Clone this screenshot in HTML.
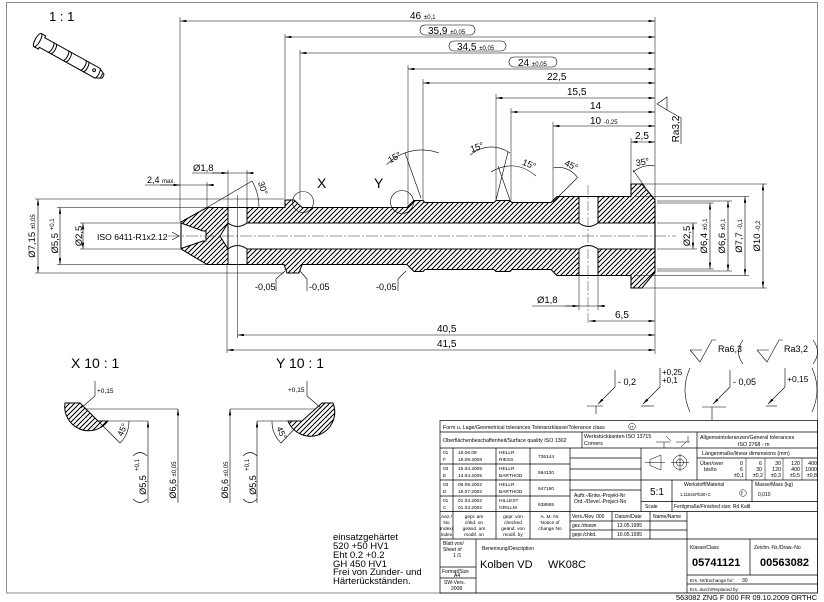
<!DOCTYPE html>
<html><head><meta charset="utf-8"><style>
html,body{margin:0;padding:0;background:#fff;}
svg{display:block;}
text{font-family:"Liberation Sans",sans-serif;fill:#000;}
.t{stroke:#000;stroke-width:.6;fill:none;}
.e{stroke:#000;stroke-width:.5;fill:none;}
.k{stroke:#000;stroke-width:.7;fill:none;}
</style></head><body>
<svg width="824" height="602" viewBox="0 0 824 602" xmlns="http://www.w3.org/2000/svg">
<defs>
<marker id="a" viewBox="0 0 8 3" refX="8" refY="1.5" markerWidth="6.5" markerHeight="2.4" markerUnits="userSpaceOnUse" orient="auto-start-reverse"><path d="M0,0 L8,1.5 L0,3 Z" fill="#000"/></marker>
</defs>
<rect x="0" y="0" width="824" height="602" fill="#fff"/>

<!-- PART hatch (explicit lines + white-out outside the outline) -->
<path stroke="#000" stroke-width="1" fill="none" shape-rendering="crispEdges" d="M100,296l120,-120M105,296l120,-120M110,296l120,-120M115,296l120,-120M120,296l120,-120M125,296l120,-120M130,296l120,-120M135,296l120,-120M140,296l120,-120M145,296l120,-120M150,296l120,-120M155,296l120,-120M160,296l120,-120M165,296l120,-120M170,296l120,-120M175,296l120,-120M180,296l120,-120M185,296l120,-120M190,296l120,-120M195,296l120,-120M200,296l120,-120M205,296l120,-120M210,296l120,-120M215,296l120,-120M220,296l120,-120M225,296l120,-120M230,296l120,-120M235,296l120,-120M240,296l120,-120M245,296l120,-120M250,296l120,-120M255,296l120,-120M260,296l120,-120M265,296l120,-120M270,296l120,-120M275,296l120,-120M280,296l120,-120M285,296l120,-120M290,296l120,-120M295,296l120,-120M300,296l120,-120M305,296l120,-120M310,296l120,-120M315,296l120,-120M320,296l120,-120M325,296l120,-120M330,296l120,-120M335,296l120,-120M340,296l120,-120M345,296l120,-120M350,296l120,-120M355,296l120,-120M360,296l120,-120M365,296l120,-120M370,296l120,-120M375,296l120,-120M380,296l120,-120M385,296l120,-120M390,296l120,-120M395,296l120,-120M400,296l120,-120M405,296l120,-120M410,296l120,-120M415,296l120,-120M420,296l120,-120M425,296l120,-120M430,296l120,-120M435,296l120,-120M440,296l120,-120M445,296l120,-120M450,296l120,-120M455,296l120,-120M460,296l120,-120M465,296l120,-120M470,296l120,-120M475,296l120,-120M480,296l120,-120M485,296l120,-120M490,296l120,-120M495,296l120,-120M500,296l120,-120M505,296l120,-120M510,296l120,-120M515,296l120,-120M520,296l120,-120M525,296l120,-120M530,296l120,-120M535,296l120,-120M540,296l120,-120M545,296l120,-120M550,296l120,-120M555,296l120,-120M560,296l120,-120M565,296l120,-120M570,296l120,-120M575,296l120,-120M580,296l120,-120M585,296l120,-120M590,296l120,-120M595,296l120,-120M600,296l120,-120M605,296l120,-120M610,296l120,-120M615,296l120,-120M620,296l120,-120M625,296l120,-120M630,296l120,-120M635,296l120,-120"/>
<path fill="#fff" fill-rule="evenodd" stroke="none" d="M60,175 H780 V297 H60 Z M181,222 L181,249 L207,264.5 L284,264.5 L287,273 L299,273 L302,264.5 L407,264.5 L414,271.5 L423,271.5 L425,269.5 L494,269.5 L496,271.5 L510,271.5 L512,269.5 L551,269.5 L557,275.5 L631,275.5 L631,288 L642,288 L655,272 L655,200 L642,184 L631,184 L631,196.5 L557,196.5 L551,202.5 L512,202.5 L510,200.5 L496,200.5 L494,202.5 L425,202.5 L423,200.5 L414,200.5 L407,207.5 L302,207.5 L294,200 L285,200 L285,207.5 L207,207.5 Z"/>
<g fill="#fff" stroke="none">
<path d="M220,236 L228,223 L655,223 L655,249 L228,249 Z"/>
<rect x="228" y="207.5" width="19" height="57"/>
<rect x="579" y="196.5" width="19" height="79"/>
<path d="M181,223 L203,231 L206,231 L206,241 L203,241 L181,248.5 Z"/>
</g>

<!-- Detail hatches -->
<path stroke="#000" stroke-width="1" fill="none" shape-rendering="crispEdges" d="M25,438l40,-40M30,438l40,-40M35,438l40,-40M40,438l40,-40M45,438l40,-40M50,438l40,-40M55,438l40,-40M60,438l40,-40M65,438l40,-40M70,438l40,-40M75,438l40,-40M80,438l40,-40M85,438l40,-40M90,438l40,-40M95,438l40,-40M100,438l40,-40"/>
<path fill="#fff" fill-rule="evenodd" stroke="none" d="M20,396 H146 V440 H20 Z M65,403 A24,24 0 0 0 108,421 L98,421 L80,403 Z"/>
<path stroke="#000" stroke-width="1" fill="none" shape-rendering="crispEdges" d="M265,438l40,-40M270,438l40,-40M275,438l40,-40M280,438l40,-40M285,438l40,-40M290,438l40,-40M295,438l40,-40M300,438l40,-40M305,438l40,-40M310,438l40,-40M315,438l40,-40M320,438l40,-40M325,438l40,-40"/>
<path fill="#fff" fill-rule="evenodd" stroke="none" d="M260,396 H370 V440 H260 Z M333,403 A24,24 0 0 1 288,421 L302,421 L322,403 Z"/>

<rect x="6.5" y="2.5" width="811" height="590.5" fill="none" stroke="#8a8a8a" stroke-width="1"/>

<!-- 1:1 and pin -->
<text x="49" y="21" font-size="13">1 : 1</text>
<g transform="translate(70,58) rotate(29)" fill="#fff" stroke="#000" stroke-width="1">
<path d="M-37,-7.5 L-32,-7.5 L-32,-5.5 L31,-5.5 L37,-2.5 L37,2.5 L31,5.5 L-32,5.5 L-32,7.5 L-37,7.5 Z"/>
<ellipse cx="-37" cy="0" rx="2.5" ry="7.5"/>
<path d="M-22,-5.5 A2,5.5 0 0 1 -22,5.5 M-19,-5.5 A2,5.5 0 0 1 -19,5.5 M-5,-5.5 A2,5.5 0 0 1 -5,5.5 M-2,-5.5 A2,5.5 0 0 1 -2,5.5 M15,-5.5 A2,5.5 0 0 1 15,5.5 M18,-5.5 A2,5.5 0 0 1 18,5.5 M31,-5.5 A2,5.5 0 0 1 31,5.5" fill="none"/>
<ellipse cx="37" cy="0" rx="1" ry="2.5"/>
<circle cx="27" cy="-1" r="1.4"/>
</g>

<!-- PART outline -->
<path d="M181,222 L207,207.5 L285,207.5 L285,200 L294,200 L302,207.5 L407,207.5 L414,200.5 L423,200.5 L425,202.5 L494,202.5 L496,200.5 L510,200.5 L512,202.5 L551,202.5 L557,196.5 L631,196.5 L631,184 L642,184 L655,200 L655,272 L642,288 L631,288 L631,275.5 L557,275.5 L551,269.5 L512,269.5 L510,271.5 L496,271.5 L494,269.5 L425,269.5 L423,271.5 L414,271.5 L407,264.5 L302,264.5 L299,273 L287,273 L284,264.5 L207,264.5 L181,249 Z" fill="none" stroke="#000" stroke-width="1.1"/>
<g stroke="#000" stroke-width="1" fill="none">
<path d="M247,223 H579 M598,223 H655 M247,249 H579 M598,249 H655"/>
<path d="M228,223 L220,236 L228,249"/>
<path d="M228,207.5 V264.5 M247,207.5 V223 M247,249 V264.5"/>
<path d="M228,223 Q237.5,230 247,223 M228,249 Q237.5,242 247,249"/>
<path d="M579,196.5 V223 M598,196.5 V223 M579,249 V275.5 M598,249 V275.5"/>
<path d="M579,223 Q588.5,230 598,223 M579,249 Q588.5,242 598,249"/>
<path d="M181,223 L203,231 L206,231 L206,241 L203,241 L181,248.5"/>
</g>
<line x1="168" y1="236" x2="676" y2="236" stroke="#333" stroke-width=".5" stroke-dasharray="12 2 2 2"/>
<line x1="588" y1="185" x2="588" y2="323" stroke="#333" stroke-width=".5" stroke-dasharray="10 2 2 2"/>

<!-- top extension lines -->
<g class="e">
<path d="M180,17 V222 M285,34 V199 M300,50 V200 M408,65 V207 M423,79 V200 M496,94 V200 M511,108 V200 M553,122 V202 M631,138 V184 M655,17 V354"/>
</g>
<!-- top dims -->
<g class="t">
<line x1="180" y1="21" x2="655" y2="21" marker-start="url(#a)" marker-end="url(#a)"/>
<line x1="285" y1="37" x2="655" y2="37" marker-start="url(#a)" marker-end="url(#a)"/>
<line x1="300" y1="53" x2="655" y2="53" marker-start="url(#a)" marker-end="url(#a)"/>
<line x1="408" y1="69" x2="655" y2="69" marker-start="url(#a)" marker-end="url(#a)"/>
<line x1="423" y1="83" x2="655" y2="83" marker-start="url(#a)" marker-end="url(#a)"/>
<line x1="496" y1="98" x2="655" y2="98" marker-start="url(#a)" marker-end="url(#a)"/>
<line x1="511" y1="112" x2="655" y2="112" marker-start="url(#a)" marker-end="url(#a)"/>
<line x1="553" y1="126" x2="655" y2="126" marker-start="url(#a)" marker-end="url(#a)"/>
<line x1="631" y1="142" x2="655" y2="142" marker-start="url(#a)" marker-end="url(#a)"/>
<rect x="420" y="25" width="55" height="10" rx="5"/>
<rect x="449" y="41" width="57" height="10" rx="5"/>
<rect x="509" y="57" width="48" height="10" rx="5"/>
</g>
<text x="410" y="19" font-size="10">46 <tspan font-size="6">±0,1</tspan></text>
<text x="428" y="34" font-size="10">35,9 <tspan font-size="6">±0,05</tspan></text>
<text x="457" y="50" font-size="10">34,5 <tspan font-size="6">±0,05</tspan></text>
<text x="518" y="66" font-size="10">24 <tspan font-size="6">±0,05</tspan></text>
<text x="547" y="80" font-size="10">22,5</text>
<text x="567" y="95" font-size="10">15,5</text>
<text x="590" y="109" font-size="10">14</text>
<text x="590" y="124" font-size="10">10 <tspan font-size="6">-0,25</tspan></text>
<text x="635" y="139" font-size="10">2,5</text>

<!-- Ra3,2 symbol -->
<path class="t" d="M667,97 L657,104 L667,110 Z M667,110 L681,118 V144"/>
<text transform="translate(679,129) rotate(-90)" text-anchor="middle" font-size="10">Ra3,2</text>

<!-- angles -->
<g class="t">
<path d="M421,198 L405,153"/>
<path d="M386.6,164.6 A50,50 0 0 1 439,153"/>
<path d="M496,200 L508,152 M510,200 L498,166"/>
<path d="M470,155 Q490,140 510,153"/>
<path d="M491,172 Q515,158 536,176"/>
<path d="M553,202 L577,178"/>
<path d="M553,168 Q568,165 578,178"/>
<path d="M645,187 L633,170"/>
<path d="M633,172 Q643,164 655,166"/>
<path d="M207,207.5 L252,181"/>
<path d="M252,181 A52,52 0 0 1 259,207.5"/>
</g>
<text transform="translate(396,160) rotate(-30)" text-anchor="middle" font-size="9">15°</text>
<text transform="translate(478,150) rotate(-20)" text-anchor="middle" font-size="9">15°</text>
<text transform="translate(528,167) rotate(22)" text-anchor="middle" font-size="9">15°</text>
<text transform="translate(570,168) rotate(25)" text-anchor="middle" font-size="9">45°</text>
<text transform="translate(643,165) rotate(-10)" text-anchor="middle" font-size="9">35°</text>
<text transform="translate(260,189) rotate(72)" text-anchor="middle" font-size="9">30°</text>

<!-- X Y circles -->
<text x="317" y="188" font-size="14">X</text>
<text x="374" y="188" font-size="14">Y</text>
<circle cx="303" cy="202" r="10.5" class="t"/>
<circle cx="402" cy="202" r="11.5" class="t"/>

<!-- left side ext/dims -->
<g class="e">
<path d="M35,199 H284 M35,273 H284 M57,207.5 H207 M57,264.5 H207 M80,223 H180 M80,249 H180"/>
<path d="M228,170 V207 M247,170 V207 M207,182 V207"/>
<path d="M227,264 V353 M237.5,195 V338"/>
<path d="M579,276 V310 M598,276 V310"/>
</g>
<g class="t">
<line x1="38" y1="199" x2="38" y2="273" marker-start="url(#a)" marker-end="url(#a)"/>
<line x1="60" y1="207.5" x2="60" y2="264.5" marker-start="url(#a)" marker-end="url(#a)"/>
<line x1="83" y1="223" x2="83" y2="249" marker-start="url(#a)" marker-end="url(#a)"/>
<line x1="145" y1="185" x2="212" y2="185"/>
<line x1="160" y1="185" x2="180" y2="185" marker-end="url(#a)"/>
<line x1="214" y1="185" x2="207" y2="185" marker-end="url(#a)"/>
<line x1="192" y1="173" x2="253" y2="173"/>
<line x1="212" y1="173" x2="228" y2="173" marker-end="url(#a)"/>
<line x1="253" y1="173" x2="247" y2="173" marker-end="url(#a)"/>
<path d="M172,232 L179,236 L172,240"/>
</g>
<text transform="translate(35,236) rotate(-90)" text-anchor="middle" font-size="9.5">Ø7,15 <tspan font-size="6">±0,05</tspan></text>
<text transform="translate(58,236) rotate(-90)" text-anchor="middle" font-size="9.5">Ø5,5 <tspan font-size="6" dy="-4">+0,1</tspan></text>
<text transform="translate(82,236) rotate(-90)" text-anchor="middle" font-size="9.5">Ø2,5</text>
<text x="97" y="240" font-size="8.6">ISO 6411-R1x2.12</text>
<text x="147" y="183" font-size="9">2,4 <tspan font-size="6">max.</tspan></text>
<text x="193" y="171" font-size="9.5">Ø1,8</text>

<!-- right diam dims -->
<g class="e">
<path d="M657,223 H697 M657,249 H697 M657,203 H714 M657,269 H714 M657,201 H732 M657,271 H732 M634,196.5 H749 M634,275.5 H749 M642,184 H767 M642,288 H767"/>
</g>
<g class="t">
<line x1="693" y1="223" x2="693" y2="249" marker-start="url(#a)" marker-end="url(#a)"/>
<line x1="710" y1="203" x2="710" y2="269" marker-start="url(#a)" marker-end="url(#a)"/>
<line x1="728" y1="201" x2="728" y2="271" marker-start="url(#a)" marker-end="url(#a)"/>
<line x1="745" y1="196.5" x2="745" y2="275.5" marker-start="url(#a)" marker-end="url(#a)"/>
<line x1="763" y1="184" x2="763" y2="288" marker-start="url(#a)" marker-end="url(#a)"/>
</g>
<text transform="translate(690,236) rotate(-90)" text-anchor="middle" font-size="9.5">Ø2,5</text>
<text transform="translate(707,236) rotate(-90)" text-anchor="middle" font-size="9.5">Ø6,4 <tspan font-size="6">±0,1</tspan></text>
<text transform="translate(725,236) rotate(-90)" text-anchor="middle" font-size="9.5">Ø6,6 <tspan font-size="6">±0,1</tspan></text>
<text transform="translate(742,236) rotate(-90)" text-anchor="middle" font-size="9.5">Ø7,7 <tspan font-size="6">-0,1</tspan></text>
<text transform="translate(760,236) rotate(-90)" text-anchor="middle" font-size="9.5">Ø10 <tspan font-size="6">-0,2</tspan></text>

<!-- bottom -0,05 -->
<g class="t">
<path d="M276,279 V291 M276,279 L285,271"/>
<path d="M307,279 V291 M307,279 L300,271"/>
<path d="M398,279 V291 M398,279 L406,271"/>
</g>
<text x="255" y="290" font-size="9">-0,05</text>
<text x="309" y="290" font-size="9">-0,05</text>
<text x="376" y="290" font-size="9">-0,05</text>

<!-- bottom dims -->
<g class="t">
<line x1="532" y1="306" x2="605" y2="306"/>
<line x1="565" y1="306" x2="579" y2="306" marker-end="url(#a)"/>
<line x1="605" y1="306" x2="598" y2="306" marker-end="url(#a)"/>
<line x1="589" y1="321" x2="655" y2="321" marker-start="url(#a)" marker-end="url(#a)"/>
<line x1="237.5" y1="335" x2="655" y2="335" marker-start="url(#a)" marker-end="url(#a)"/>
<line x1="227" y1="350" x2="655" y2="350" marker-start="url(#a)" marker-end="url(#a)"/>
</g>
<text x="537" y="303" font-size="9.5">Ø1,8</text>
<text x="615" y="318" font-size="10">6,5</text>
<text x="437" y="332" font-size="10">40,5</text>
<text x="437" y="347" font-size="10">41,5</text>

<!-- surface legend -->
<g class="t">
<path d="M690,350 H702 M690,350 L700,362 L712,340 H716"/>
<path d="M743,340 Q734,352 743,364"/>
<path d="M757,350 H769 M757,350 L767,362 L779,340 H783"/>
<path d="M813,340 Q822,352 813,364"/>
</g>
<text x="718" y="352" font-size="9">Ra6,3</text>
<text x="784" y="352" font-size="9">Ra3,2</text>

<!-- tolerance legend -->
<g class="t">
<path d="M615,370 V387"/><line x1="615" y1="387" x2="598" y2="404" marker-end="url(#a)"/><path d="M587,406 H603 M596,406 V414"/>
<path d="M660,368 V387"/><line x1="660" y1="387" x2="643" y2="404" marker-end="url(#a)"/><path d="M641,406 H654"/>
<path d="M690,368 Q680,390 690,412"/>
<path d="M730,370 V387"/><line x1="730" y1="387" x2="713" y2="404" marker-end="url(#a)"/><path d="M702,407 H726 M712,407 V420"/>
<path d="M785,368 V387"/><line x1="785" y1="387" x2="768" y2="404" marker-end="url(#a)"/><path d="M766,406 H777"/>
<path d="M812,368 Q822,390 812,412"/>
</g>
<text x="618" y="385" font-size="9">- 0,2</text>
<text x="662" y="375" font-size="8">+0,25</text>
<text x="662" y="383" font-size="8">+0,1</text>
<text x="733" y="385" font-size="9">- 0,05</text>
<text x="787" y="382" font-size="8.5">+0,15</text>

<!-- Detail X -->
<text x="71" y="368" font-size="14">X  10 : 1</text>
<path d="M65,403 L80,403 L98,421 L108,421 A24,24 0 0 1 65,403 Z" fill="none" stroke="#000" stroke-width="1"/>
<g class="t">
<path d="M84,409 H178 M108,421 H148"/>
<line x1="178" y1="503" x2="178" y2="409" marker-end="url(#a)"/>
<line x1="148" y1="503" x2="148" y2="421" marker-end="url(#a)"/>
<path d="M98,421 L120,443"/>
<path d="M129,421 A31,31 0 0 1 120,443"/>
<path d="M95,381 V396 L81,408"/>
<path d="M133,456 Q140,449 147,456 M133,499 Q140,506 147,499"/>
</g>
<text x="97" y="393" font-size="6.5">+0,15</text>
<text transform="translate(125,431) rotate(-65)" text-anchor="middle" font-size="8.5">45°</text>
<text transform="translate(146,485) rotate(-90)" text-anchor="middle" font-size="9">Ø5,5</text>
<text transform="translate(139,465) rotate(-90)" text-anchor="middle" font-size="6">+0,1</text>
<text transform="translate(176,480) rotate(-90)" text-anchor="middle" font-size="9">Ø6,6 <tspan font-size="6">±0,05</tspan></text>

<!-- Detail Y -->
<text x="276" y="368" font-size="14">Y  10 : 1</text>
<path d="M333,403 L322,403 L302,421 L288,421 A24,24 0 0 0 333,403 Z" fill="none" stroke="#000" stroke-width="1"/>
<g class="t">
<path d="M230,409 H316 M257,421 H288"/>
<line x1="230" y1="503" x2="230" y2="409" marker-end="url(#a)"/>
<line x1="257" y1="503" x2="257" y2="421" marker-end="url(#a)"/>
<path d="M302,421 L281,443"/>
<path d="M272,421 A30,30 0 0 0 281,443"/>
<path d="M307,381 V396 L321,408"/>
<path d="M243,456 Q250,449 257,456 M243,499 Q250,506 257,499"/>
</g>
<text x="288" y="392" font-size="6.5">+0,15</text>
<text transform="translate(279,434) rotate(65)" text-anchor="middle" font-size="8.5">45°</text>
<text transform="translate(228,480) rotate(-90)" text-anchor="middle" font-size="9">Ø6,6 <tspan font-size="6">±0,05</tspan></text>
<text transform="translate(256,485) rotate(-90)" text-anchor="middle" font-size="9">Ø5,5</text>
<text transform="translate(249,465) rotate(-90)" text-anchor="middle" font-size="6">+0,1</text>

<!-- notes -->
<g font-size="9.5">
<text x="333" y="540">einsatzgehärtet</text>
<text x="333" y="549">520 +50 HV1</text>
<text x="333" y="558">Eht 0.2 +0.2</text>
<text x="333" y="567">GH 450 HV1</text>
<text x="333" y="575">Frei von Zunder- und</text>
<text x="333" y="584">Härterückständen.</text>
</g>

<!-- TITLE BLOCK -->
<g class="k">
<rect x="440" y="420.5" width="377.5" height="172.5"/>
<path d="M440,432 H818 M440,448 H818"/>
<path d="M582,432 V448 M697,432 V480"/>
<path d="M440,464 H570 M440,480 H818 M440,496 H570 M440,511.5 H818 M440,539 H818"/>
<path d="M453,448 V539 M496,448 V539 M530,448 V539 M570,448 V539 M641,448 V511.5 M672,480 V511.5 M752,480 V501.5"/>
<path d="M570,458 H641 M570,469 H641 M570,490 H641 M641,501.5 H818 M697,458 H818"/>
<path d="M570,521 H687 M570,530 H687 M612,511.5 V539 M650,511.5 V539 M687,511.5 V593"/>
<path d="M476,539 V593 M440,567 H476 M440,578 H476"/>
<path d="M750,539 V575 M687,575 H818 M687,584 H818"/>
</g>
<g class="e">
<path d="M746,458 V480 M765,458 V480 M783,458 V480 M802,458 V480"/>
<path d="M650,459.5 L661,455 V470 L650,465.5 Z M645,462.5 H665"/>
<circle cx="680" cy="462.5" r="7"/><circle cx="680" cy="462.5" r="3.5"/>
<path d="M671,462.5 H689 M680,453.5 V471.5"/>
<path d="M656,442 H670 M664,442 V448 M666,436 L671,441 M676,442 H690 M681,447 L686,442 M688,436 V442"/>
<circle cx="632" cy="426.5" r="3.3"/>
<circle cx="743" cy="493" r="3.3"/>
</g>
<g font-size="5.3">
<text x="443" y="429">Form u. Lage/Geometrical tolerances  Toleranzklasse/Tolerance class</text>
<text x="630.3" y="428.5" font-size="4.5">H</text>
<text x="443" y="442">Oberflächenbeschaffenheit/Surface quality ISO 1302</text>
<text x="584" y="438">Werkstückkanten  ISO 13715</text>
<text x="584" y="445">Corners</text>
<text x="700" y="439">Allgemeintoleranzen/General tolerances</text>
<text x="738" y="446">ISO 2768 - m</text>
<text x="702" y="455">Längenmaße/linear dimensions (mm)</text>
<text x="700" y="465">Über/over</text>
<text x="704" y="471">bis/to</text>
</g>
<g font-size="5.3" text-anchor="end">
<text x="743" y="465">0</text><text x="743" y="471">6</text><text x="744" y="477">±0,1</text>
<text x="762" y="465">6</text><text x="762" y="471">30</text><text x="763" y="477">±0,2</text>
<text x="781" y="465">30</text><text x="781" y="471">120</text><text x="781" y="477">±0,3</text>
<text x="800" y="465">120</text><text x="800" y="471">400</text><text x="800" y="477">±0,5</text>
<text x="817" y="465">400</text><text x="817" y="471">1000</text><text x="817" y="477">±0,8</text>
</g>
<g font-size="4.8">
<text x="443" y="454">01</text><text x="458" y="454">18.06.08</text><text x="499" y="454">HELLR</text><text x="538" y="458">736144</text>
<text x="443" y="461">F</text><text x="458" y="461">18.09.2008</text><text x="499" y="461">RIESS</text>
<text x="443" y="470">03</text><text x="458" y="470">15.04.2005</text><text x="499" y="470">HELLR</text><text x="538" y="474">594130</text>
<text x="443" y="477">E</text><text x="458" y="477">14.04.2005</text><text x="499" y="477">BARTHOD</text>
<text x="443" y="486">03</text><text x="458" y="486">06.09.2002</text><text x="499" y="486">HELLR</text><text x="538" y="490">647180</text>
<text x="443" y="493">D</text><text x="458" y="493">18.07.2002</text><text x="499" y="493">BARTHOD</text>
<text x="443" y="502">01</text><text x="458" y="502">01.03.2002</text><text x="499" y="502">HILLEST</text><text x="538" y="506">638565</text>
<text x="443" y="509">C</text><text x="458" y="509">01.03.2002</text><text x="499" y="509">GRILLM</text>
</g>
<g font-size="4.8" text-anchor="middle">
<text x="446.5" y="518">Aez./</text><text x="446.5" y="524">No</text><text x="446.5" y="530">Index/</text><text x="446.5" y="536">index</text>
<text x="474" y="518">gepr. am</text><text x="474" y="524">chkd. on</text><text x="474" y="530">geänd. am</text><text x="474" y="536">modif. on</text>
<text x="513" y="518">gepr. von</text><text x="513" y="524">checked</text><text x="513" y="530">geänd. von</text><text x="513" y="536">modif. by</text>
<text x="550" y="518">A. M. Nr.</text><text x="550" y="524">Notice of</text><text x="550" y="530">change No</text>
</g>
<g font-size="5">
<text x="574" y="497">Auftr.-/Entw.-Projekt-Nr</text>
<text x="574" y="503">Ord.-/Devel.-Project-No</text>
<text x="645" y="508">Scale</text>
<text x="684" y="486">Werkstoff/Material</text>
<text x="680" y="496" font-size="4.3">1.1154nPb30+C</text>
<text x="741.3" y="495">f</text>
<text x="755" y="486">Masse/Mass (kg)</text>
<text x="758" y="496">0,010</text>
<text x="674" y="508">Fertigmaße/Finished size: Rd Kaltl</text>
<text x="572" y="518">Vers./Rev.  000</text>
<text x="615" y="518">Datum/Date</text>
<text x="653" y="518">Name/Name</text>
<text x="572" y="527">gez./drawn</text><text x="617" y="527">13.05.1995</text>
<text x="572" y="536">gepr./chkd.</text><text x="617" y="536">10.05.1995</text>
<text x="443" y="545">Blatt von/</text><text x="443" y="551">Sheet of</text><text x="453" y="557">1 /1</text>
<text x="442" y="573">Format/Size</text><text x="454" y="577">A4</text>
<text x="444" y="584">SW-Vers.</text><text x="451" y="590">2008</text>
<text x="482" y="550">Benennung/Description</text>
<text x="690" y="549">Klasse/Class</text>
<text x="754" y="549">Zeichn.-Nr./Draw.-No</text>
<text x="690" y="582" font-size="4.6">Ers. Nr/Exchange for:</text><text x="742" y="582">30</text>
<text x="690" y="591" font-size="4.6">Ers. durch/Replaced by:</text>
</g>
<text x="650" y="495" font-size="10">5:1</text>
<text x="480" y="568" font-size="11">Kolben VD</text>
<text x="548" y="568" font-size="11">WK08C</text>
<text x="692" y="566" font-size="11" font-weight="bold">05741121</text>
<text x="760" y="566" font-size="11" font-weight="bold">00563082</text>
<text x="676" y="600" font-size="7.5" textLength="141" lengthAdjust="spacingAndGlyphs">563082 ZNG F 000 FR 09.10.2009 ORTHC</text>
</svg>
</body></html>
